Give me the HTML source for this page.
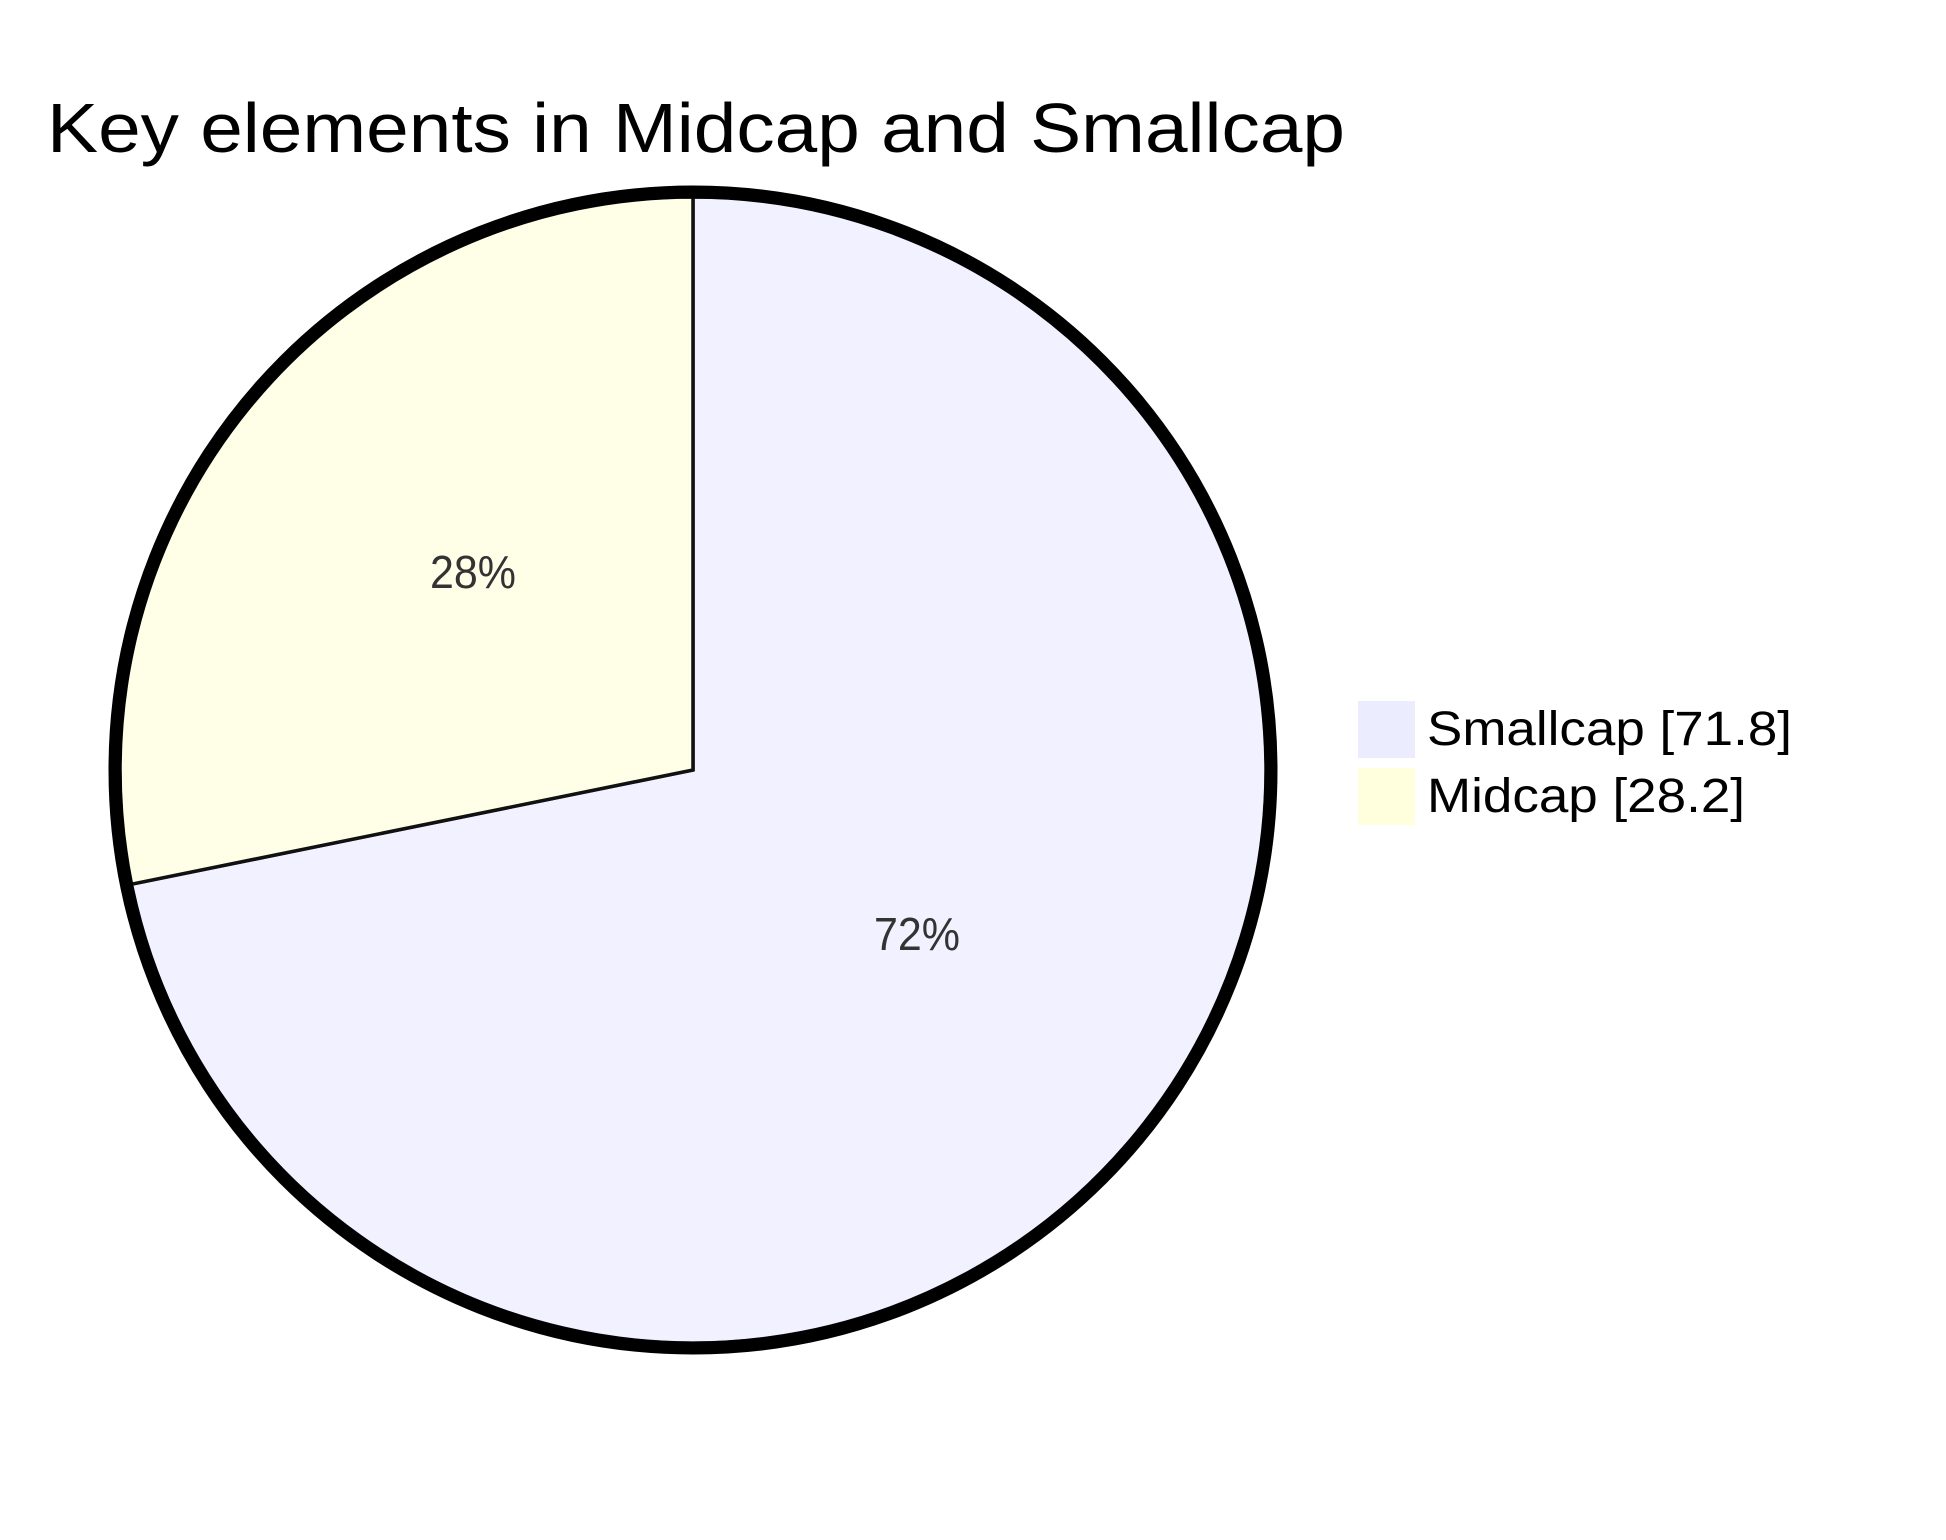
<!DOCTYPE html>
<html><head><style>
html,body{margin:0;padding:0;background:#fff;}
svg{display:block;}
text{font-family:"Liberation Sans",sans-serif;}
</style></head><body>
<svg width="1946" height="1540" viewBox="0 0 1946 1540" xmlns="http://www.w3.org/2000/svg">
<rect width="1946" height="1540" fill="#fff"/>
<text x="47" y="152" font-size="70" fill="#000" textLength="1298" lengthAdjust="spacingAndGlyphs">Key elements in Midcap and Smallcap</text>
<g transform="translate(693,770)">
<path d="M0,0 L0,-573 A573,573 0 1 1 -561.5,114.2 Z" fill="#f1f1ff" stroke="#111" stroke-width="3.5"/>
<path d="M0,0 L-561.5,114.2 A573,573 0 0 1 0,-573 Z" fill="#ffffe8" stroke="#111" stroke-width="3.5"/>
<circle r="578" fill="none" stroke="#000" stroke-width="13"/>
<text x="-220" y="-194" font-size="46" fill="#333" text-anchor="middle" dominant-baseline="middle" textLength="86" lengthAdjust="spacingAndGlyphs">28%</text>
<text x="224" y="168" font-size="46" fill="#333" text-anchor="middle" dominant-baseline="middle" textLength="86" lengthAdjust="spacingAndGlyphs">72%</text>
</g>
<rect x="1358" y="701" width="57" height="57" fill="#ececff"/>
<rect x="1358" y="768" width="57" height="57" fill="#ffffde"/>
<text x="1427" y="745" font-size="48" fill="#000" textLength="365" lengthAdjust="spacingAndGlyphs">Smallcap [71.8]</text>
<text x="1427" y="812" font-size="48" fill="#000" textLength="318" lengthAdjust="spacingAndGlyphs">Midcap [28.2]</text>
</svg>
</body></html>
